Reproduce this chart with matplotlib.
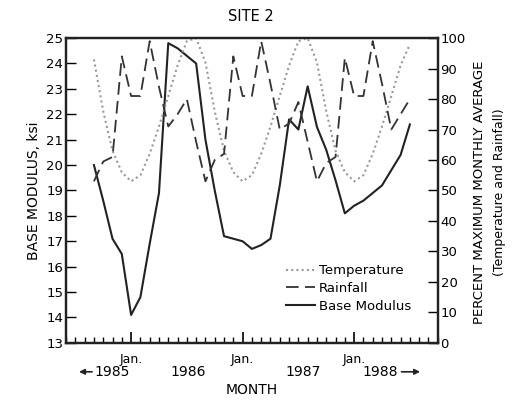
import numpy as np
import matplotlib.pyplot as plt

# months counted from Jun 1984 (0) ; data Sep 1984 .. Jul 1987
months = list(range(3, 38))

temperature = [93, 76, 63, 56,
               53, 55, 62, 71, 81, 91, 99, 100, 92, 76, 63, 56,
               53, 55, 62, 71, 81, 91, 99, 100, 92, 76, 63, 56,
               53, 55, 62, 71, 81, 91, 98]

rainfall = [53, 59.5, 61, 94,
            81, 81, 99, 84, 71, 75, 80, 66, 53, 60, 62, 94,
            81, 81, 99, 85, 70, 72, 79, 66, 53, 59, 61, 93.5,
            81, 81, 99, 85, 70, 75, 80]

base_modulus = [20.0, 18.6, 17.1, 16.5,
                14.1, 14.8, 16.9, 18.9, 24.8, 24.6, 24.3, 24.0, 21.0, 19.0, 17.2, 17.1,
                17.0, 16.7, 16.85, 17.1, 19.2, 21.8, 21.4, 23.1, 21.5, 20.6, 19.4, 18.1,
                18.4, 18.6, 18.9, 19.2, 19.8, 20.4, 21.6]

jan_months = [7, 19, 31]
year_labels = ['1985', '1986', '1987', '1988']

plt.rcParams['font.family'] = 'DejaVu Sans'
fig = plt.figure(figsize=(5.12, 4.01), dpi=100)
ax = fig.add_axes([0.129, 0.145, 0.726, 0.76])
ax2 = ax.twinx()

ax.plot(months, base_modulus, color='#222222', lw=1.5, label='Base Modulus')
ax2.plot(months, temperature, color='#999999', lw=1.5, ls=(0, (1, 1.5)), label='Temperature')
ax2.plot(months, rainfall, color='#333333', lw=1.3, ls=(0, (7, 3.5)), label='Rainfall')

ax.set_xlim(0, 40)
ax.set_ylim(13, 25)
ax2.set_ylim(0, 100)
ax.set_yticks(range(13, 26))
ax2.set_yticks(range(0, 101, 10))
ax.set_xticks(jan_months)
ax.set_xticks(range(0, 41), minor=True)
ax.set_xticklabels([])
ax.tick_params(axis='x', which='major', direction='in', length=8, width=1.2, top=False)
ax.tick_params(axis='x', which='minor', direction='in', length=4, width=1, top=False)
ax.tick_params(axis='y', direction='in', length=7, width=1, labelsize=9.5, pad=2)
ax2.tick_params(axis='y', direction='in', length=7, width=1, labelsize=9.5, pad=2)
for a in (ax, ax2):
    for s in a.spines.values():
        s.set_linewidth(1.6)
        s.set_color('#222222')

ax.set_ylabel('BASE MODULUS, ksi', fontsize=10, labelpad=4)
fig.text(0.937, 0.52, 'PERCENT MAXIMUM MONTHLY AVERAGE', rotation=90,
         ha='center', va='center', fontsize=9.5)
fig.text(0.975, 0.52, '(Temperature and Rainfall)', rotation=90,
         ha='center', va='center', fontsize=9)
fig.text(0.49, 0.96, 'SITE 2', ha='center', va='center', fontsize=10.5)

# month axis text
xt = ax.get_xaxis_transform()
for m in jan_months:
    ax.text(m, -0.055, 'Jan.', transform=xt, ha='center', va='center', fontsize=9)
year_x = [5.0, 13.1, 25.5, 33.8]
for x, lab in zip(year_x, year_labels):
    ax.text(x, -0.095, lab, transform=xt, ha='center', va='center', fontsize=10)
ax.annotate('', xy=(1.1, -0.095), xytext=(3.1, -0.095), xycoords=xt,
            arrowprops=dict(arrowstyle='-|>', color='#222222', lw=1.2, mutation_scale=8))
ax.annotate('', xy=(38.4, -0.095), xytext=(35.8, -0.095), xycoords=xt,
            arrowprops=dict(arrowstyle='-|>', color='#222222', lw=1.2, mutation_scale=8))
ax.text(20, -0.155, 'MONTH', transform=xt, ha='center', va='center', fontsize=10)

h1, l1 = ax2.get_legend_handles_labels()
h0, l0 = ax.get_legend_handles_labels()
ax2.legend(h1 + h0, l1 + l0, loc='lower right', bbox_to_anchor=(0.96, 0.06), frameon=False,
           fontsize=9.5, handlelength=2.2, handletextpad=0.3, labelspacing=0.35)

fig.savefig('out.png', dpi=100)
